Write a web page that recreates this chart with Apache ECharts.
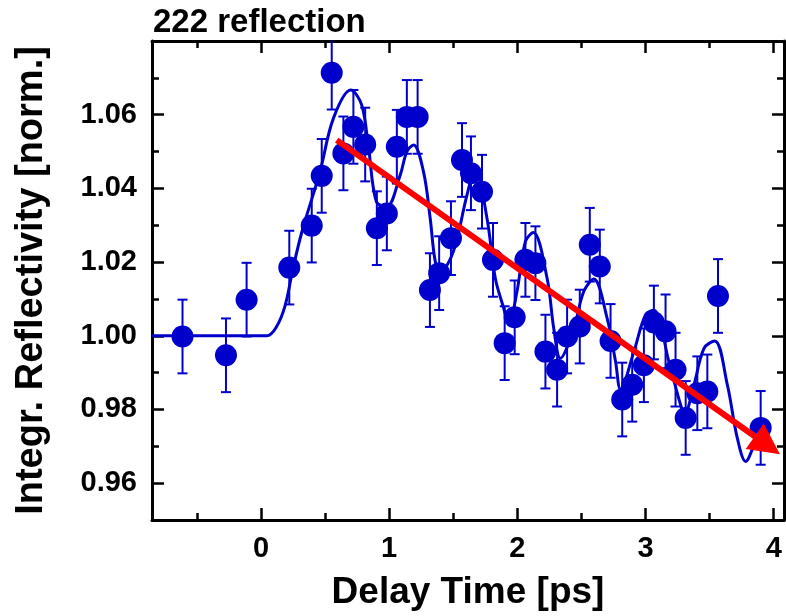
<!DOCTYPE html>
<html>
<head>
<meta charset="utf-8">
<script src="https://cdn.jsdelivr.net/npm/echarts@6/dist/echarts.min.js"></script>
<style>
html,body{margin:0;padding:0;background:#ffffff;}
#chart{width:786px;height:616px;}
</style>
</head>
<body>
<div id="chart"></div>
<script>
// Measured points: delay time (ps)
var delayTimes = [-0.612,-0.273,-0.112,0.221,0.396,0.474,0.552,0.643,0.721,0.813,0.904,0.982,1.060,1.138,1.222,1.318,1.390,1.482,1.568,1.638,1.724,1.810,1.901,1.979,2.063,2.141,2.219,2.310,2.388,2.487,2.565,2.643,2.727,2.818,2.896,2.987,3.065,3.156,3.234,3.313,3.404,3.482,3.565,3.898];
// Integrated reflectivity (normalized)
var reflectivity = [0.9998,0.9947,1.0098,1.0185,1.0299,1.0434,1.0714,1.0495,1.0567,1.0519,1.0292,1.0332,1.0513,1.0594,1.0594,1.0124,1.0170,1.0265,1.0477,1.0441,1.0391,1.0206,0.9980,1.0050,1.0206,1.0197,0.9957,0.9908,0.9998,1.0025,1.0247,1.0188,0.9986,0.9827,0.9867,0.9920,1.0036,1.0012,0.9908,0.9777,0.9844,0.9849,1.0108,0.9750];
// Error bar half-heights
var errors = [0.010,0.010,0.010,0.010,0.010,0.010,0.010,0.010,0.010,0.010,0.010,0.010,0.010,0.010,0.010,0.010,0.010,0.010,0.010,0.010,0.010,0.010,0.010,0.010,0.010,0.010,0.010,0.010,0.010,0.010,0.010,0.010,0.010,0.010,0.010,0.010,0.010,0.010,0.010,0.010,0.010,0.010,0.010,0.010];
// Fit curve
var fitX = [-0.85,0.045,0.122,0.19,0.25,0.32,0.46,0.565,0.70,0.786,0.84,0.90,0.98,1.086,1.138,1.19,1.268,1.32,1.36,1.40,1.50,1.607,1.672,1.763,1.828,1.893,1.932,1.997,2.063,2.125,2.232,2.284,2.336,2.44,2.518,2.596,2.70,2.766,2.805,2.909,3.0,3.065,3.182,3.273,3.305,3.378,3.456,3.54,3.638,3.716,3.781,3.86,3.95];
var fitY = [1.000,1.000,1.0025,1.0084,1.0183,1.0283,1.0445,1.059,1.0667,1.0626,1.0508,1.0364,1.0350,1.0436,1.050,1.0518,1.0445,1.0319,1.0201,1.0174,1.0228,1.0382,1.0454,1.0319,1.0156,1.0075,1.003,1.012,1.0256,1.028,1.0156,1.002,0.9939,1.002,1.012,1.0154,1.0048,0.993,0.9855,0.9957,1.0057,1.0069,0.993,0.9813,0.979,0.9867,0.9966,0.9986,0.9867,0.9722,0.9659,0.9714,0.9768];
// Trend arrow (start, end) in data coordinates
var arrowStart = [0.591, 1.0531];
var arrowEnd = [3.95, 0.9703];
// Axis ticks
var xMajorTicks = [0,1,2,3,4];
var xMinorTicks = [-0.5,0.5,1.5,2.5,3.5];
var yMajorTicks = [0.96,0.98,1.00,1.02,1.04,1.06];
var yMinorTicks = [0.97,0.99,1.01,1.03,1.05,1.07];
var xMin = -0.85, xMax = 4.08, yMin = 0.95, yMax = 1.08;

var BLUE = '#0000cc';
var FONT = '"Liberation Sans", Arial, sans-serif';

var points = delayTimes.map(function(x,i){ return [x, reflectivity[i], errors[i]]; });
var fitData = fitX.map(function(x,i){ return [x, fitY[i]]; });

function axisX(pos, ticks, len, showLine, showLabel, extra){
  var a = {
    type:'value', min:xMin, max:xMax, position:pos, gridIndex:0,
    axisLine:{show:showLine, onZero:false, lineStyle:{color:'#000', width:3}},
    axisTick:{show:true, inside:true, length:len, customValues:ticks, lineStyle:{color:'#000', width:2.5}},
    axisLabel:{show:showLabel, customValues:ticks, fontSize:29, fontWeight:'bold', color:'#000', fontFamily:FONT, margin:14},
    splitLine:{show:false}
  };
  if(extra){ for(var k in extra) a[k]=extra[k]; }
  return a;
}
function axisY(pos, ticks, len, showLine, showLabel, extra){
  var a = {
    type:'value', min:yMin, max:yMax, position:pos, gridIndex:0,
    axisLine:{show:showLine, onZero:false, lineStyle:{color:'#000', width:3}},
    axisTick:{show:true, inside:true, length:len, customValues:ticks, lineStyle:{color:'#000', width:2.5}},
    axisLabel:{show:showLabel, customValues:ticks, fontSize:29, fontWeight:'bold', color:'#000', fontFamily:FONT, margin:15,
      formatter:function(v){ return Number(v).toFixed(2); }},
    splitLine:{show:false}
  };
  if(extra){ for(var k in extra) a[k]=extra[k]; }
  return a;
}

var chart = echarts.init(document.getElementById('chart'), null, {renderer:'canvas'});
chart.setOption({
  backgroundColor:'#ffffff',
  animation:false,
  title:{text:'222 reflection', left:148, top:1, textStyle:{fontSize:33, fontWeight:'bold', color:'#000', fontFamily:FONT}},
  grid:{left:152, right:2, top:41, bottom:96, containLabel:false},
  xAxis:[
    axisX('bottom', xMajorTicks, 12, true, true, {name:'Delay Time [ps]', nameLocation:'middle', nameGap:54,
      nameTextStyle:{fontSize:37, fontWeight:'bold', color:'#000', fontFamily:FONT}}),
    axisX('bottom', xMinorTicks, 7, false, false),
    axisX('top', xMajorTicks, 12, true, false),
    axisX('top', xMinorTicks, 7, false, false)
  ],
  yAxis:[
    axisY('left', yMajorTicks, 12, true, true, {name:'Integr. Reflectivity [norm.]', nameLocation:'middle', nameGap:101, nameRotate:90,
      nameTextStyle:{fontSize:38, fontWeight:'bold', color:'#000', fontFamily:FONT}}),
    axisY('left', yMinorTicks, 7, false, false),
    axisY('right', yMajorTicks, 12, true, false),
    axisY('right', yMinorTicks, 7, false, false)
  ],
  series:[
    {
      type:'custom', xAxisIndex:0, yAxisIndex:0, clip:true, z:2,
      data:points,
      encode:{x:0, y:1},
      renderItem:function(params, api){
        var x = api.value(0), y = api.value(1), e = api.value(2);
        var t = api.coord([x, y+e]), b = api.coord([x, y-e]);
        var w = 5;
        var st = {stroke:BLUE, lineWidth:2};
        return {type:'group', children:[
          {type:'line', shape:{x1:t[0], y1:t[1], x2:b[0], y2:b[1]}, style:st},
          {type:'line', shape:{x1:t[0]-w, y1:t[1], x2:t[0]+w, y2:t[1]}, style:st},
          {type:'line', shape:{x1:b[0]-w, y1:b[1], x2:b[0]+w, y2:b[1]}, style:st}
        ]};
      }
    },
    {
      type:'line', xAxisIndex:0, yAxisIndex:0, data:fitData, smooth:0.35, showSymbol:false, z:3,
      lineStyle:{color:BLUE, width:3}, silent:true
    },
    {
      type:'scatter', xAxisIndex:0, yAxisIndex:0, data:points.map(function(p){return [p[0],p[1]];}),
      symbol:'circle', symbolSize:22, itemStyle:{color:BLUE, opacity:1}, z:4, silent:true
    },
    {
      type:'line', xAxisIndex:0, yAxisIndex:0, data:[], z:10, silent:true,
      markLine:{
        silent:true, animation:false,
        symbol:['none','triangle'], symbolSize:31,
        label:{show:false},
        lineStyle:{color:'#ff0000', width:6, type:'solid', opacity:1},
        itemStyle:{color:'#ff0000'},
        emphasis:{disabled:true},
        data:[[{coord:arrowStart},{coord:arrowEnd}]]
      }
    }
  ]
});
</script>
</body>
</html>
